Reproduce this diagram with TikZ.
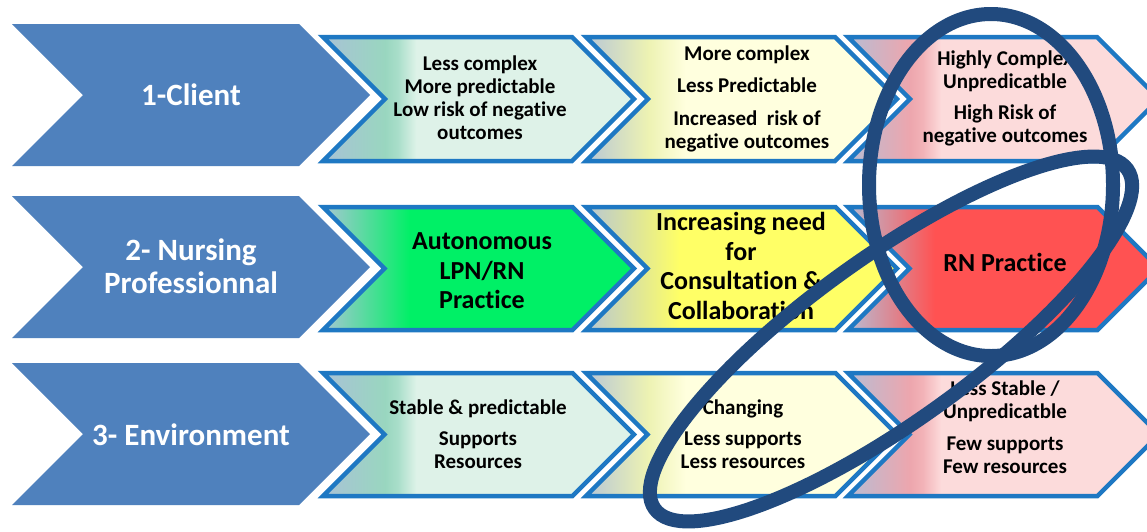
\documentclass[tikz,border=0pt]{standalone}
\usepackage{fontspec}
\setmainfont{Carlito}[Ligatures=NoCommon]
\definecolor{chevblue}{RGB}{79,129,189}
\definecolor{edgeblue}{RGB}{30,120,195}
\definecolor{ringblue}{RGB}{33,74,126}
\pgfdeclarehorizontalshading{mintshade}{100bp}{rgb(0bp)=(0.66,0.76,0.84); rgb(25bp)=(0.66,0.76,0.84); rgb(35bp)=(0.60,0.84,0.75); rgb(37bp)=(0.66,0.87,0.79); rgb(40bp)=(0.87,0.95,0.91); rgb(100bp)=(0.87,0.95,0.91)}
\pgfdeclarehorizontalshading{paleyellowshade}{100bp}{rgb(0bp)=(0.72,0.78,0.84); rgb(25bp)=(0.72,0.78,0.84); rgb(35bp)=(0.93,0.95,0.70); rgb(41bp)=(1,1,0.87); rgb(100bp)=(1,1,0.87)}
\pgfdeclarehorizontalshading{pinkshade}{100bp}{rgb(0bp)=(0.72,0.74,0.83); rgb(25bp)=(0.72,0.74,0.83); rgb(35bp)=(0.93,0.65,0.68); rgb(37bp)=(0.95,0.70,0.72); rgb(40bp)=(0.99,0.86,0.86); rgb(100bp)=(0.99,0.86,0.86)}
\pgfdeclarehorizontalshading{greenshade}{100bp}{rgb(0bp)=(0.66,0.78,0.83); rgb(25bp)=(0.66,0.78,0.83); rgb(39bp)=(0,0.94,0.40); rgb(100bp)=(0,0.94,0.40)}
\pgfdeclarehorizontalshading{yellowshade}{100bp}{rgb(0bp)=(0.72,0.78,0.83); rgb(25bp)=(0.72,0.78,0.83); rgb(40bp)=(1,1,0.40); rgb(100bp)=(1,1,0.40)}
\pgfdeclarehorizontalshading{redshade}{100bp}{rgb(0bp)=(0.72,0.74,0.83); rgb(25bp)=(0.72,0.74,0.83); rgb(39bp)=(1,0.32,0.32); rgb(100bp)=(1,0.32,0.32)}
% #1 x left, #2 y top, #3 width, #4 height, #5 shading
\newcommand\colchev[5]{%
  \shadedraw[shading=#5, edgestyle] (#1,#2) -- ++(#3-#4/2,0) -- ++(#4/2,#4/2) -- ++(-#4/2,#4/2) -- ++(-#3+#4/2,0) -- ++(#4/2,-#4/2) -- cycle;}
\newcommand\bluechev[4]{%
  \fill[chevblue] (#1,#2) -- ++(#3-#4/2,0) -- ++(#4/2,#4/2) -- ++(-#4/2,#4/2) -- ++(-#3+#4/2,0) -- ++(#4/2,-#4/2) -- cycle;}
\tikzset{
  edgestyle/.style={draw=edgeblue, line width=4.5pt, line join=miter},
  headtext/.style={text=white, align=center, font=\fontsize{31}{33}\selectfont\bfseries},
  celltext/.style={text=black, align=center, font=\fontsize{21}{23}\selectfont\bfseries},
  bigtext/.style={text=black, align=center, font=\fontsize{26}{29.5}\selectfont\bfseries},
  ring/.style={draw=ringblue, line width=14pt}
}
\begin{document}
\begin{tikzpicture}[x=1pt, y=-1pt]
\useasboundingbox (0,0) rectangle (1147,531);
\fill[white] (0,0) rectangle (1147,531);
\clip (0,0) rectangle (1147,531);
% left blue chevrons
\bluechev{12}{24}{358}{142}
\bluechev{12}{196}{358}{142}
\bluechev{12}{363}{358}{142}
\node[headtext] (h1) at (191,95) {1-Client};
\node[headtext] (h2) at (191,266) {2- Nursing\\Professionnal};
\node[headtext] (h3) at (191,435) {3- Environment};
% row 1
\colchev{323}{37}{311}{124}{mintshade}
\colchev{586}{37}{311}{124}{paleyellowshade}
\colchev{848}{37}{311}{124}{pinkshade}
% row 2
\colchev{323}{207}{311}{123}{greenshade}
\colchev{586}{207}{311}{123}{yellowshade}
\colchev{848}{207}{311}{123}{redshade}
% row 3
\colchev{323}{373}{311}{123}{mintshade}
\colchev{586}{373}{311}{123}{paleyellowshade}
\colchev{848}{373}{311}{123}{pinkshade}
% texts row 1
\node[celltext] (c11) at (480,98) {Less complex\\More predictable\\Low risk of negative\\outcomes};
\node[celltext] (c12) at (747,99) {More complex\\[9pt]Less Predictable\\[10pt]Increased\ \ risk of\\negative outcomes};
\node[celltext] (c13) at (1005,98) {Highly Complex\\Unpredicatble\\[8pt]High Risk of\\negative outcomes};
% texts row 2
\node[bigtext] (c21) at (482,271) {Autonomous\\LPN/RN\\Practice};
\node[bigtext] (c22) at (741,266) {Increasing need\\for\\Consultation \&\\Collaboration};
\node[bigtext] (c23) at (1005,262) {RN Practice};
% texts row 3
\node[celltext] (c31) at (478,434) {Stable \& predictable\\[8pt]Supports\\Resources};
\node[celltext] (c32) at (743,434) {Changing\\[8pt]Less supports\\Less resources};
\node[celltext] (c33) at (1005,427) {Less Stable /\\Unpredicatble\\[9pt]Few supports\\Few resources};
% hand-drawn rings
\draw[ring] (991,185) ellipse [x radius=122pt, y radius=171pt];
\draw[ring, rotate around={35.7:(891,339)}] (891,339) ellipse [x radius=291pt, y radius=82pt];
\end{tikzpicture}
\end{document}
